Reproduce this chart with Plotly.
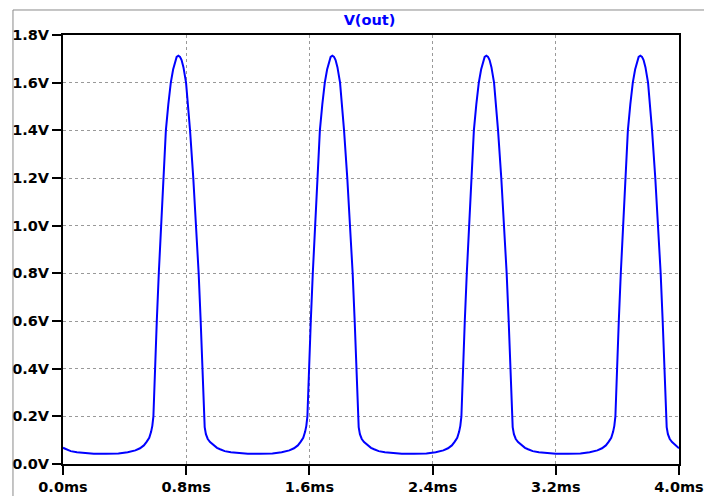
import plotly.graph_objects as go

# Time (ms) and V(out) (V)
time_ms = [
    0.000, 0.020, 0.050, 0.090, 0.140, 0.200, 0.280, 0.360, 0.420, 0.470, 0.500, 0.525, 0.544, 0.560, 0.572,
    0.580, 0.587, 0.596, 0.609, 0.622, 0.637, 0.650, 0.668, 0.684, 0.700, 0.715, 0.727, 0.738, 0.749, 0.760,
    0.770, 0.782, 0.799, 0.812, 0.825, 0.846, 0.864, 0.881, 0.894, 0.905, 0.914, 0.920, 0.928, 0.940, 0.955,
    0.975,
    1.000, 1.020, 1.050, 1.090, 1.140, 1.200, 1.280, 1.360, 1.420, 1.470, 1.500, 1.525, 1.544, 1.560, 1.572,
    1.580, 1.587, 1.596, 1.609, 1.622, 1.637, 1.650, 1.668, 1.684, 1.700, 1.715, 1.727, 1.738, 1.749, 1.760,
    1.770, 1.782, 1.799, 1.812, 1.825, 1.846, 1.864, 1.881, 1.894, 1.905, 1.914, 1.920, 1.928, 1.940, 1.955,
    1.975,
    2.000, 2.020, 2.050, 2.090, 2.140, 2.200, 2.280, 2.360, 2.420, 2.470, 2.500, 2.525, 2.544, 2.560, 2.572,
    2.580, 2.587, 2.596, 2.609, 2.622, 2.637, 2.650, 2.668, 2.684, 2.700, 2.715, 2.727, 2.738, 2.749, 2.760,
    2.770, 2.782, 2.799, 2.812, 2.825, 2.846, 2.864, 2.881, 2.894, 2.905, 2.914, 2.920, 2.928, 2.940, 2.955,
    2.975,
    3.000, 3.020, 3.050, 3.090, 3.140, 3.200, 3.280, 3.360, 3.420, 3.470, 3.500, 3.525, 3.544, 3.560, 3.572,
    3.580, 3.587, 3.596, 3.609, 3.622, 3.637, 3.650, 3.668, 3.684, 3.700, 3.715, 3.727, 3.738, 3.749, 3.760,
    3.770, 3.782, 3.799, 3.812, 3.825, 3.846, 3.864, 3.881, 3.894, 3.905, 3.914, 3.920, 3.928, 3.940, 3.955,
    3.975,
    4.000,
]
v_out = [
    0.068, 0.062, 0.054, 0.049, 0.045, 0.043, 0.043, 0.044, 0.049, 0.057, 0.066, 0.078, 0.094, 0.110, 0.135,
    0.160, 0.200, 0.400, 0.600, 0.800, 1.000, 1.200, 1.400, 1.510, 1.600, 1.655, 1.690, 1.708, 1.713, 1.708,
    1.695, 1.665, 1.600, 1.510, 1.400, 1.200, 1.000, 0.800, 0.600, 0.400, 0.200, 0.155, 0.125, 0.105, 0.092,
    0.080,
    0.068, 0.062, 0.054, 0.049, 0.045, 0.043, 0.043, 0.044, 0.049, 0.057, 0.066, 0.078, 0.094, 0.110, 0.135,
    0.160, 0.200, 0.400, 0.600, 0.800, 1.000, 1.200, 1.400, 1.510, 1.600, 1.655, 1.690, 1.708, 1.713, 1.708,
    1.695, 1.665, 1.600, 1.510, 1.400, 1.200, 1.000, 0.800, 0.600, 0.400, 0.200, 0.155, 0.125, 0.105, 0.092,
    0.080,
    0.068, 0.062, 0.054, 0.049, 0.045, 0.043, 0.043, 0.044, 0.049, 0.057, 0.066, 0.078, 0.094, 0.110, 0.135,
    0.160, 0.200, 0.400, 0.600, 0.800, 1.000, 1.200, 1.400, 1.510, 1.600, 1.655, 1.690, 1.708, 1.713, 1.708,
    1.695, 1.665, 1.600, 1.510, 1.400, 1.200, 1.000, 0.800, 0.600, 0.400, 0.200, 0.155, 0.125, 0.105, 0.092,
    0.080,
    0.068, 0.062, 0.054, 0.049, 0.045, 0.043, 0.043, 0.044, 0.049, 0.057, 0.066, 0.078, 0.094, 0.110, 0.135,
    0.160, 0.200, 0.400, 0.600, 0.800, 1.000, 1.200, 1.400, 1.510, 1.600, 1.655, 1.690, 1.708, 1.713, 1.708,
    1.695, 1.665, 1.600, 1.510, 1.400, 1.200, 1.000, 0.800, 0.600, 0.400, 0.200, 0.155, 0.125, 0.105, 0.092,
    0.080,
    0.066,
]

x_tick_vals = [0.0, 0.8, 1.6, 2.4, 3.2, 4.0]
x_tick_text = ["0.0ms", "0.8ms", "1.6ms", "2.4ms", "3.2ms", "4.0ms"]
y_tick_vals = [0.0, 0.2, 0.4, 0.6, 0.8, 1.0, 1.2, 1.4, 1.6, 1.8]
y_tick_text = ["0.0V", "0.2V", "0.4V", "0.6V", "0.8V", "1.0V", "1.2V", "1.4V", "1.6V", "1.8V"]
trace_name = "V(out)"

tick_font = dict(family="DejaVu Sans", size=14.5, color="#000000", weight="bold")

fig = go.Figure()
fig.add_trace(go.Scatter(
    x=time_ms, y=v_out, mode="lines", name=trace_name,
    line=dict(color="#0000FF", width=2),
    hoverinfo="skip",
))

axis_common = dict(
    showline=True, linecolor="#000000", linewidth=2, mirror=True,
    ticks="outside", ticklen=9, tickwidth=2, tickcolor="#000000",
    showgrid=True, gridcolor="#999999", gridwidth=1, griddash="3px,3px",
    zeroline=False, tickfont=tick_font, automargin=False,
)

fig.update_xaxes(range=[0, 4.0], tickmode="array", tickvals=x_tick_vals, ticktext=x_tick_text, **axis_common)
fig.update_yaxes(range=[0, 1.8], tickmode="array", tickvals=y_tick_vals, ticktext=y_tick_text, **axis_common)

# outer window frame (left and top gray edges)
fig.add_shape(type="line", xref="paper", yref="paper", x0=-0.0812, x1=-0.0812, y0=-0.1, y1=1.0583,
              line=dict(color="#8a8a8a", width=1))
fig.add_shape(type="line", xref="paper", yref="paper", x0=-0.0812, x1=1.06, y0=1.0583, y1=1.0583,
              line=dict(color="#8a8a8a", width=1))

fig.update_layout(
    width=704, height=496,
    margin=dict(l=63, r=25, t=35, b=32, pad=0, autoexpand=False),
    paper_bgcolor="#FFFFFF", plot_bgcolor="#FFFFFF",
    showlegend=False,
    title=dict(text=trace_name, x=(369.5 - 63) / 616, xref="paper", xanchor="center",
               yref="container", y=1 - 20 / 496, yanchor="middle", automargin=False,
               font=dict(family="DejaVu Sans", size=14.5, color="#0000FF", weight="bold")),
)

# remove the page's default body margin so the figure fills the window exactly
fig.write_html("out.html", config={"displayModeBar": False},
               post_script="document.body.style.margin='0px';")
